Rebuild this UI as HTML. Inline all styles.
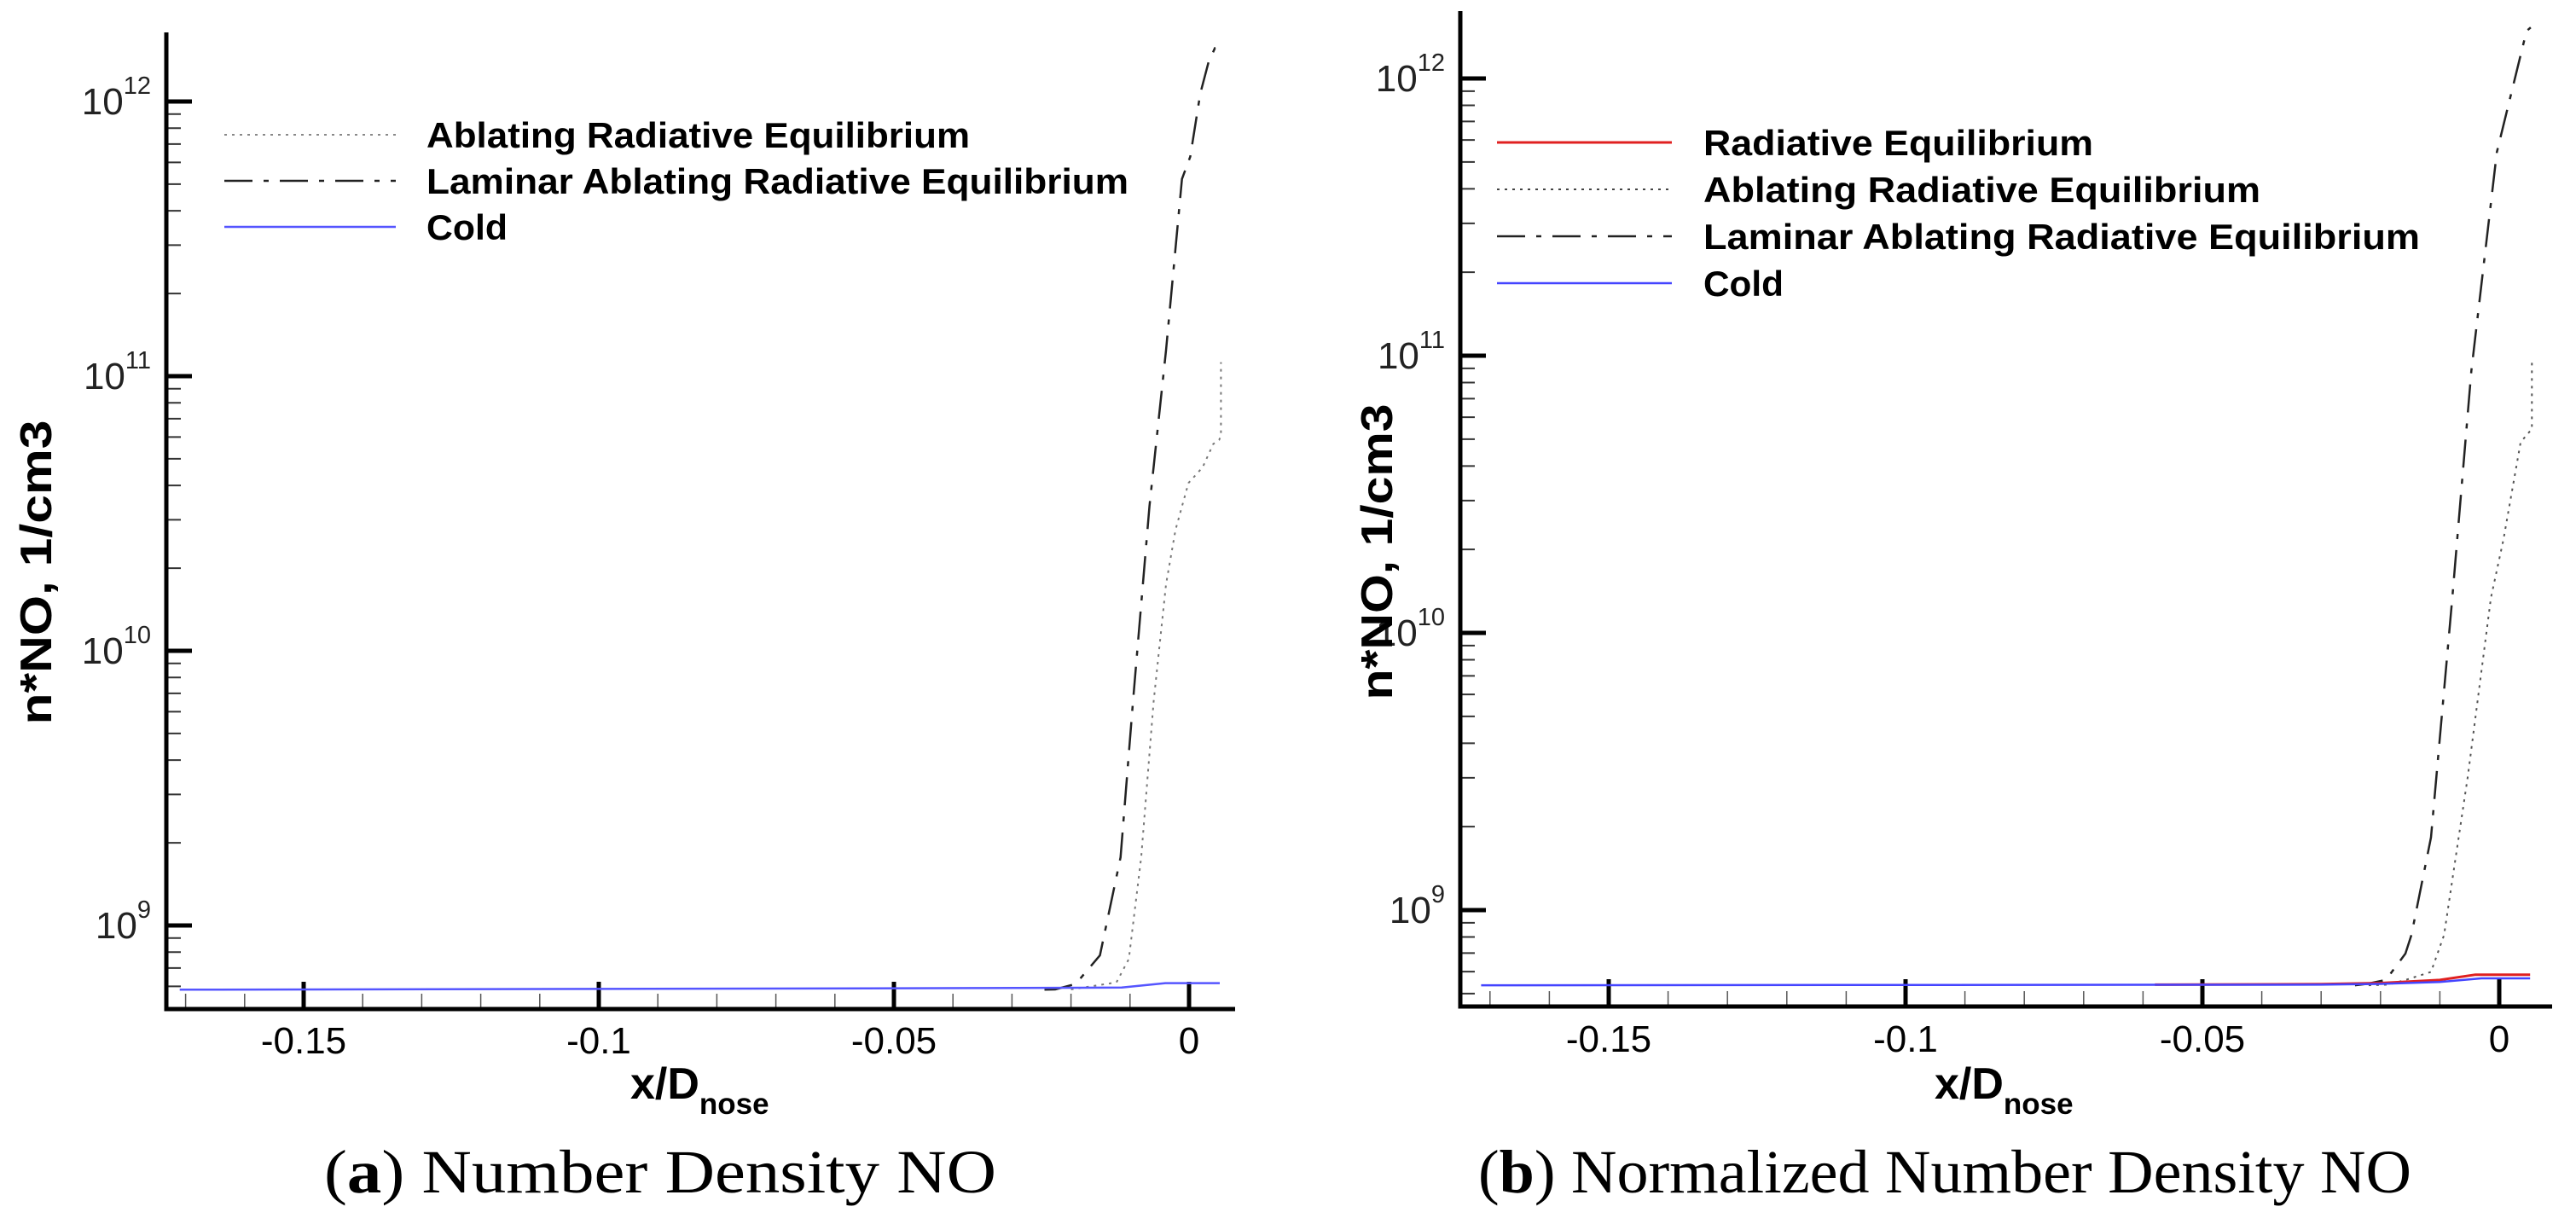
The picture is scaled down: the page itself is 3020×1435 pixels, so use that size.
<!DOCTYPE html>
<html>
<head>
<meta charset="utf-8">
<style>
  html,body{margin:0;padding:0;background:#fff;}
  svg{display:block;}
  .sans{font-family:"Liberation Sans",Arial,sans-serif;}
  .serif{font-family:"Liberation Serif","Times New Roman",serif;}
</style>
</head>
<body>
<svg id="fig" width="3020" height="1435" viewBox="0 0 3020 1435" xmlns="http://www.w3.org/2000/svg">
  <rect x="0" y="0" width="3020" height="1435" fill="#fff"/>
  <g id="panelA"></g>
  <g id="panelB"></g>
</svg>
<script>
// ---------- data (x/D_nose, log10 of n*NO) ----------
const xTickValues = [-0.15, -0.1, -0.05, 0];
const xTickLabels = ["-0.15", "-0.1", "-0.05", "0"];
const yDecades = [9, 10, 11, 12];
const yDecadeLabels = ["9", "10", "11", "12"];

// Panel (a)
const aLaminarX = [-0.0245, -0.0227, -0.0192, -0.0151, -0.0116, -0.0095, -0.0067, -0.0039, -0.0012, 0.0002, 0.0019, 0.0033, 0.0044, 0.0052];
const aLaminarY = [8.766, 8.767, 8.787, 8.891, 9.248, 9.816, 10.527, 11.094, 11.718, 11.799, 12.028, 12.143, 12.195, 12.195];
const aAblatingX = [-0.0200, -0.0123, -0.0102, -0.0081, -0.0060, -0.0039, -0.0023, -0.0001, 0.0023, 0.0041, 0.0051, 0.0054, 0.0054];
const aAblatingY = [8.767, 8.793, 8.878, 9.248, 9.816, 10.242, 10.440, 10.611, 10.668, 10.753, 10.768, 10.784, 11.051];
const aColdX = [-0.171, -0.1, -0.035, -0.0114, -0.004, 0.0052];
const aColdY = [8.766, 8.769, 8.772, 8.774, 8.790, 8.790];

// Panel (b)
const bLaminarX = [-0.0243, -0.0223, -0.0191, -0.0158, -0.0148, -0.0115, -0.0079, -0.0047, -0.0004, 0.0046, 0.0053];
const bLaminarY = [8.729, 8.734, 8.748, 8.843, 8.910, 9.262, 10.127, 10.945, 11.734, 12.171, 12.184];
const bAblatingX = [-0.0220, -0.0187, -0.0158, -0.0115, -0.0093, -0.0053, -0.0014, 0.0007, 0.0036, 0.0055, 0.0055];
const bAblatingY = [8.729, 8.731, 8.748, 8.777, 8.910, 9.481, 10.127, 10.336, 10.688, 10.736, 10.987];
const bRadEqX = [-0.058, -0.03, -0.02, -0.01, -0.004, 0.0052];
const bRadEqY = [8.731, 8.733, 8.737, 8.748, 8.767, 8.767];
const bColdX = [-0.1715, -0.03, -0.02, -0.01, -0.003, 0.0052];
const bColdY = [8.729, 8.731, 8.734, 8.741, 8.754, 8.754];

const NS = "http://www.w3.org/2000/svg";
function mk(parent, tag, attrs, text){
  const e = document.createElementNS(NS, tag);
  for (const k in attrs) e.setAttribute(k, attrs[k]);
  if (text !== undefined) e.textContent = text;
  parent.appendChild(e);
  return e;
}

function makeScales(cfg){
  return {
    x: v => cfg.x0px + v * cfg.xPerUnit,
    y: l => cfg.y12px + (12 - l) * cfg.decadePx
  };
}

function drawPanel(g, cfg, series, legend){
  const s = makeScales(cfg);
  const L = cfg.left, R = cfg.right, T = cfg.top, B = cfg.bottom;

  for (let i = -17; i <= 0; i++){
    const v = i / 100;
    if (i % 5 === 0) continue;
    const px = s.x(v);
    if (px < L + 2) continue;
    const t = mk(g, "line", {x1:px, y1:B, x2:px, y2:B-18, stroke:"#555", "stroke-width":1.5});
    
    
  }
  xTickValues.forEach((v, i) => {
    const px = s.x(v);
    const t = mk(g, "line", {x1:px, y1:B, x2:px, y2:B-32, stroke:"#000", "stroke-width":5});
    
    
    const lab = mk(g, "text", {x:px, y:cfg.xLabelY, "text-anchor":"middle", "font-size":44, class:"sans", fill:"#000"}, xTickLabels[i]);
    
    
  });
  for (let d = 8; d <= 12; d++){
    for (let m = 1; m <= 9; m++){
      const l = d + Math.log10(m);
      const py = s.y(l);
      if (py < T + 2 || py > B - 2) continue;
      if (m === 1){
        const t = mk(g, "line", {x1:L, y1:py, x2:L+30, y2:py, stroke:"#000", "stroke-width":5});
        
        
      } else {
        const t = mk(g, "line", {x1:L, y1:py, x2:L+17, y2:py, stroke:"#333", "stroke-width":2});
        
        
      }
    }
  }
  yDecades.forEach((d, i) => {
    const py = s.y(d);
    const lab = mk(g, "text", {x:L-18, y:py+15, "text-anchor":"end", "font-size":44, class:"sans", fill:"#222"});
    
    
    mk(lab, "tspan", {}, "10");
    mk(lab, "tspan", {"font-size":29, dy:-24}, yDecadeLabels[i]);
  });

  series.forEach(se => {
    const pts = se.xs.map((v, i) => s.x(v).toFixed(1) + "," + s.y(se.ys[i]).toFixed(1)).join(" ");
    const attrs = {points:pts, fill:"none", stroke:se.color, "stroke-width":se.width, "stroke-linejoin":"round"};
    if (se.dash) attrs["stroke-dasharray"] = se.dash;
    const pl = mk(g, "polyline", attrs);
    
    
  });

  const ya = mk(g, "line", {x1:L, y1:T, x2:L, y2:B+2.5, stroke:"#000", "stroke-width":5});
  
  
  const xa = mk(g, "line", {x1:L-2.5, y1:B, x2:R, y2:B, stroke:"#000", "stroke-width":5});
  
  

  legend.items.forEach((it, i) => {
    const ly = legend.rows[i];
    const la = {x1:legend.x1, y1:ly, x2:legend.x2, y2:ly, stroke:it.color, "stroke-width":it.lw};
    if (it.dash) la["stroke-dasharray"] = it.dash;
    const ln = mk(g, "line", la);
    
    
    const tx = mk(g, "text", {x:legend.tx, y:ly+15, "font-size":42, "font-weight":"bold", class:"sans", fill:"#000", textLength:it.w, lengthAdjust:"spacingAndGlyphs"}, it.label);
    
    
  });

  const yt = mk(g, "text", {x:0, y:0, transform:`translate(${cfg.yTitleX},${cfg.yTitleY}) rotate(-90)`, "text-anchor":"middle", "font-size":52, "font-weight":"bold", class:"sans", fill:"#000", textLength:cfg.yTitleLen, lengthAdjust:"spacingAndGlyphs"}, "n*NO, 1/cm3");
  
  

  const xt = mk(g, "text", {x:cfg.xTitleX, y:1288, "font-size":52, "font-weight":"bold", class:"sans", fill:"#000"});
  
  
  mk(xt, "tspan", {}, "x/D");
  mk(xt, "tspan", {"font-size":35, dy:18}, "nose");

  const cap = mk(g, "text", {x:cfg.capX, y:1398, "font-size":72, class:"serif", fill:"#000", textLength:cfg.capLen, lengthAdjust:"spacingAndGlyphs"});
  
  
  mk(cap, "tspan", {}, "(");
  mk(cap, "tspan", {"font-weight":"bold"}, cfg.capLetter);
  mk(cap, "tspan", {}, ") " + cfg.capText);
}

const DASHDOT = "33 13 6 13";
const DOTTED = "3 6";

drawPanel(document.getElementById("panelA"),
  {x0px:1394, xPerUnit:6920, y12px:119, decadePx:322, left:195, right:1448, top:38, bottom:1183,
   xLabelY:1235, yTitleX:60, yTitleY:671, yTitleLen:357, xTitleX:739,
   capX:380, capLen:788, capLetter:"a", capText:"Number Density NO"},
  [
    {name:"ablating-radiative-equilibrium-line", xs:aAblatingX, ys:aAblatingY, color:"#777", width:2, dash:DOTTED},
    {name:"laminar-ablating-radiative-equilibrium-line", xs:aLaminarX, ys:aLaminarY, color:"#222", width:2.5, dash:DASHDOT},
    {name:"cold-line", xs:aColdX, ys:aColdY, color:"#5555ff", width:2.5}
  ],
  {x1:263, x2:464, tx:500, rows:[158, 212, 266], items:[
    {label:"Ablating Radiative Equilibrium", color:"#888", lw:2, dash:DOTTED, w:637},
    {label:"Laminar Ablating Radiative Equilibrium", color:"#222", lw:2.5, dash:DASHDOT, w:823},
    {label:"Cold", color:"#5555ff", lw:2.5, w:95}
  ]}
);

drawPanel(document.getElementById("panelB"),
  {x0px:2930, xPerUnit:6960, y12px:92, decadePx:325, left:1712, right:2992, top:13, bottom:1180,
   xLabelY:1233, yTitleX:1632, yTitleY:647, yTitleLen:347, xTitleX:2268,
   capX:1733, capLen:1094, capLetter:"b", capText:"Normalized Number Density NO"},
  [
    {name:"ablating-radiative-equilibrium-line", xs:bAblatingX, ys:bAblatingY, color:"#555", width:2, dash:DOTTED},
    {name:"laminar-ablating-radiative-equilibrium-line", xs:bLaminarX, ys:bLaminarY, color:"#222", width:2.5, dash:DASHDOT},
    {name:"radiative-equilibrium-line", xs:bRadEqX, ys:bRadEqY, color:"#e02020", width:3},
    {name:"cold-line", xs:bColdX, ys:bColdY, color:"#4444ff", width:2.5}
  ],
  {x1:1755, x2:1960, tx:1997, rows:[167, 222, 277, 332], items:[
    {label:"Radiative Equilibrium", color:"#e02020", lw:3, w:457},
    {label:"Ablating Radiative Equilibrium", color:"#444", lw:2, dash:DOTTED, w:653},
    {label:"Laminar Ablating Radiative Equilibrium", color:"#222", lw:2.5, dash:DASHDOT, w:840},
    {label:"Cold", color:"#4444ff", lw:2.5, w:94}
  ]}
);
</script>
</body>
</html>
